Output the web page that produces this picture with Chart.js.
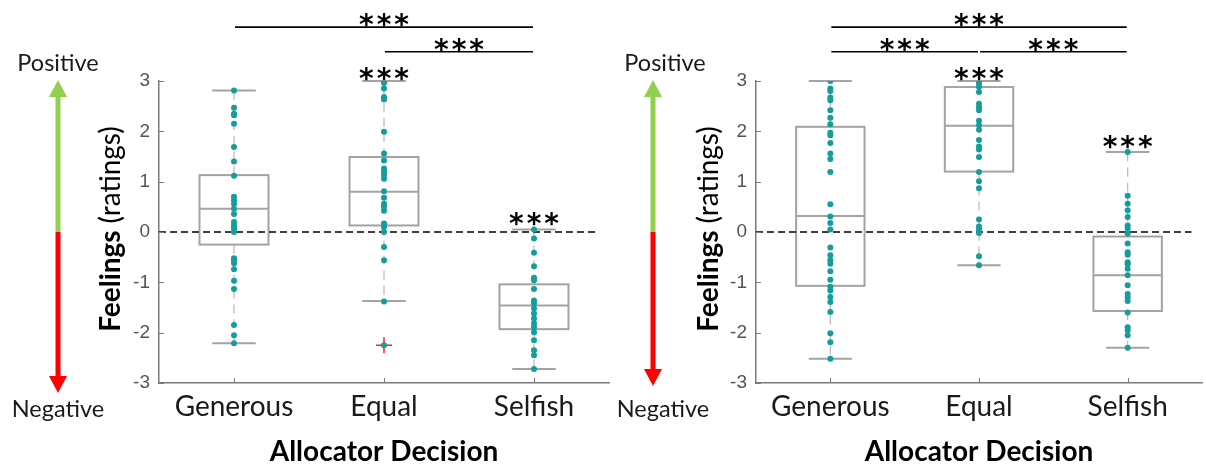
<!DOCTYPE html>
<html><head><meta charset="utf-8">
<script src="https://cdn.jsdelivr.net/npm/chart.js@4.4.1/dist/chart.umd.min.js"></script>
<style>
html,body{margin:0;padding:0;background:#fff;width:1206px;height:464px;overflow:hidden;}
.wrap{position:absolute;top:0;height:464px;}
#w1{left:0;width:620px;} #w2{left:590px;width:616px;}
</style></head><body>
<div class="wrap" id="w1"><canvas id="c1"></canvas></div>
<div class="wrap" id="w2"><canvas id="c2"></canvas></div>
<script>
// ---------- data ----------
const categories = ['Generous', 'Equal', 'Selfish'];
const yTicks = [-3, -2, -1, 0, 1, 2, 3];
const yLabel = ['Feelings', '(ratings)'];
const xLabel = 'Allocator Decision';
const posLabel = 'Positive';
const negLabel = 'Negative';
const starText = '***';

// Panel A (left)
const aGenerous = [2.81, 2.47, 2.35, 2.32, 2.15, 1.69, 1.40, 1.12, 0.70, 0.63, 0.56, 0.46, 0.36, 0.20, 0.13, 0.07, 0.0, -0.52, -0.56, -0.62, -0.74, -0.97, -1.13, -1.85, -2.05, -2.21];
const aEqual = [3.0, 2.96, 2.85, 2.68, 2.63, 1.99, 1.56, 1.42, 1.26, 1.19, 1.13, 1.06, 0.81, 0.68, 0.56, 0.50, 0.42, 0.17, 0.10, 0.0, -0.30, -0.56, -1.38, -2.25];
const aSelfish = [0.05, -0.13, -0.41, -0.68, -0.91, -0.96, -1.13, -1.36, -1.42, -1.52, -1.62, -1.72, -1.82, -1.89, -1.99, -2.15, -2.35, -2.45, -2.72];
const aOutlierX = [2];
const aOutlierY = [-2.25];
const aQ1 = [-0.25, 0.13, -1.93];
const aMedian = [0.46, 0.80, -1.46];
const aQ3 = [1.13, 1.49, -1.04];
const aLow = [-2.21, -1.37, -2.72];
const aHigh = [2.81, 3.0, 0.05];
const aBracketFrom = [1, 2];
const aBracketTo = [3, 3];
const aBracketLevel = [4.07, 3.58];
const aStarCat = [2, 3];
const aStarLevel = [3.18, 0.30];

// Panel B (right)
const bGenerous = [3.0, 2.85, 2.80, 2.67, 2.62, 2.42, 2.27, 2.14, 1.97, 1.92, 1.77, 1.56, 1.45, 1.19, 0.55, 0.31, 0.18, 0.05, -0.31, -0.46, -0.56, -0.63, -0.78, -0.95, -1.09, -1.16, -1.29, -1.39, -1.59, -2.01, -2.19, -2.52];
const bEqual = [3.0, 2.95, 2.88, 2.78, 2.55, 2.48, 2.42, 2.21, 2.12, 2.03, 1.83, 1.70, 1.64, 1.49, 1.19, 1.01, 0.87, 0.25, 0.11, 0.05, -0.02, -0.48, -0.66];
const bSelfish = [1.59, 0.72, 0.56, 0.43, 0.30, 0.13, 0.07, -0.03, -0.23, -0.40, -0.45, -0.60, -0.64, -0.73, -0.86, -1.06, -1.23, -1.30, -1.37, -1.60, -1.89, -1.95, -2.05, -2.30];
const bOutlierX = [];
const bOutlierY = [];
const bQ1 = [-1.07, 1.20, -1.57];
const bMedian = [0.32, 2.11, -0.86];
const bQ3 = [2.09, 2.88, -0.09];
const bLow = [-2.52, -0.66, -2.30];
const bHigh = [3.0, 3.0, 1.59];
const bBracketFrom = [1, 1, 2];
const bBracketTo = [3, 2, 3];
const bBracketLevel = [4.07, 3.58, 3.58];
const bStarCat = [2, 3];
const bStarLevel = [3.18, 1.83];

// ---------- styles ----------
const TEAL = '#159d9d';
const BOXC = '#a3a3a3';
const AXISC = '#7a7a7a';
const FONT = 'Lato, "Open Sans", sans-serif';

function boxPlugin(p) {
  return {
    id: 'box_' + p.id,
    beforeDatasetsDraw(chart) {
      const ctx = chart.ctx, xs = chart.scales.x, ys = chart.scales.y;
      ctx.save();
      for (let i = 0; i < categories.length; i++) {
        const xc = xs.getPixelForValue(i + 1);
        const half = xs.getPixelForValue(i + 1 + p.boxHalf) - xc;
        const cap = xs.getPixelForValue(i + 1 + p.capHalf) - xc;
        const yq1 = ys.getPixelForValue(p.q1[i]);
        const yq3 = ys.getPixelForValue(p.q3[i]);
        const ym = ys.getPixelForValue(p.med[i]);
        const yl = ys.getPixelForValue(p.low[i]);
        const yh = ys.getPixelForValue(p.high[i]);
        ctx.strokeStyle = '#b8b8b8'; ctx.lineWidth = 1.2; ctx.setLineDash([9, 6]);
        ctx.beginPath(); ctx.moveTo(xc, yq3); ctx.lineTo(xc, yh); ctx.stroke();
        ctx.beginPath(); ctx.moveTo(xc, yq1); ctx.lineTo(xc, yl); ctx.stroke();
        ctx.setLineDash([]);
        ctx.strokeStyle = BOXC; ctx.lineWidth = 2;
        ctx.beginPath(); ctx.moveTo(xc - cap, yh); ctx.lineTo(xc + cap, yh); ctx.stroke();
        ctx.beginPath(); ctx.moveTo(xc - cap, yl); ctx.lineTo(xc + cap, yl); ctx.stroke();
        ctx.strokeRect(xc - half, yq3, 2 * half, yq1 - yq3);
        ctx.beginPath(); ctx.moveTo(xc - half, ym); ctx.lineTo(xc + half, ym); ctx.stroke();
      }
      ctx.strokeStyle = '#000'; ctx.lineWidth = 1.5; ctx.setLineDash([7, 4]);
      const y0 = ys.getPixelForValue(0);
      ctx.beginPath(); ctx.moveTo(xs.getPixelForValue(0.5), y0); ctx.lineTo(xs.getPixelForValue(p.zeroEnd), y0); ctx.stroke();
      ctx.setLineDash([]);
      ctx.restore();
    },
    afterDraw(chart) {
      const ctx = chart.ctx, xs = chart.scales.x, ys = chart.scales.y, ca = chart.chartArea;
      ctx.save();
      ctx.strokeStyle = AXISC; ctx.lineWidth = 1;
      yTicks.forEach(v => { const y = Math.round(ys.getPixelForValue(v)) + 0.5; ctx.beginPath(); ctx.moveTo(ca.left, y); ctx.lineTo(ca.left + 5, y); ctx.stroke(); });
      categories.forEach((c, i) => { const x = Math.round(xs.getPixelForValue(i + 1)) + 0.5; ctx.beginPath(); ctx.moveTo(x, ca.bottom); ctx.lineTo(x, ca.bottom - 5); ctx.stroke(); });
      const stars = (xc, yc) => {
        ctx.save();
        ctx.fillStyle = '#000'; ctx.font = 'bold 28px "DejaVu Sans"'; ctx.textAlign = 'center'; ctx.textBaseline = 'alphabetic';
        ctx.letterSpacing = '3px';
        ctx.fillText(starText, xc + 1.5, yc + 16);
        ctx.restore();
      };
      ctx.strokeStyle = '#000'; ctx.lineWidth = 1.6;
      for (let i = 0; i < p.bFrom.length; i++) {
        const x1 = xs.getPixelForValue(p.bFrom[i]) + 1, x2 = xs.getPixelForValue(p.bTo[i]) - 1;
        const y = ys.getPixelForValue(p.bLevel[i]);
        ctx.beginPath(); ctx.moveTo(x1, y); ctx.lineTo(x2, y); ctx.stroke();
        stars((x1 + x2) / 2, y - 9);
      }
      for (let i = 0; i < p.sCat.length; i++) {
        stars(xs.getPixelForValue(p.sCat[i]), ys.getPixelForValue(p.sLevel[i]));
      }
      const ax = ca.left + p.arrowDX;
      const yTop = ys.getPixelForValue(3) - 1, yBot = ys.getPixelForValue(-3) + p.arrowBotExtra, yMid = ys.getPixelForValue(0);
      ctx.fillStyle = '#92d050';
      ctx.fillRect(ax - 2.5, yTop + 16, 5, yMid - yTop - 16);
      ctx.beginPath(); ctx.moveTo(ax, yTop); ctx.lineTo(ax - 9, yTop + 17); ctx.lineTo(ax + 9, yTop + 17); ctx.closePath(); ctx.fill();
      ctx.fillStyle = '#ff0000';
      ctx.fillRect(ax - 2.5, yMid, 5, yBot - yMid - 16);
      ctx.beginPath(); ctx.moveTo(ax, yBot); ctx.lineTo(ax - 9, yBot - 17); ctx.lineTo(ax + 9, yBot - 17); ctx.closePath(); ctx.fill();
      ctx.fillStyle = '#1a1a1a'; ctx.font = '23.5px ' + FONT; ctx.textAlign = 'center'; ctx.textBaseline = 'middle';
      ctx.fillText(posLabel, ca.left + p.posDX, 63);
      ctx.fillText(negLabel, ca.left + p.negDX, 409);
      ctx.save();
      ctx.translate(ca.left + p.ylabDX, (ca.top + ca.bottom) / 2 - 3);
      ctx.rotate(-Math.PI / 2);
      ctx.fillStyle = '#000'; ctx.textBaseline = 'middle'; ctx.textAlign = 'left';
      ctx.font = 'bold 28px ' + FONT; const w1 = ctx.measureText(yLabel[0] + ' ').width;
      ctx.font = '28px ' + FONT; const w2 = ctx.measureText(yLabel[1]).width;
      const start = -(w1 + w2) / 2;
      ctx.font = 'bold 28px ' + FONT; ctx.fillText(yLabel[0], start, 0);
      ctx.font = '28px ' + FONT; ctx.fillText(yLabel[1], start + w1, 0);
      ctx.restore();
      ctx.fillStyle = '#000'; ctx.font = 'bold 28px ' + FONT; ctx.textAlign = 'center'; ctx.textBaseline = 'middle';
      ctx.fillText(xLabel, xs.getPixelForValue(2), 452);
      ctx.restore();
    }
  };
}

function makePanel(canvasId, p) {
  const series = [p.gen, p.eq, p.sel];
  const pts = [];
  series.forEach((arr, i) => arr.forEach(v => pts.push({ x: i + 1, y: v })));
  const outl = p.ox.map((x, i) => ({ x: x, y: p.oy[i] }));
  new Chart(document.getElementById(canvasId), {
    type: 'scatter',
    data: {
      datasets: [
        { data: pts, backgroundColor: TEAL, borderColor: TEAL, pointRadius: 3, borderWidth: 0, order: 0 },
        { data: outl, pointStyle: 'cross', pointRadius: 8, borderColor: '#ff2020', borderWidth: 1.5, order: 1 }
      ]
    },
    options: {
      responsive: false, animation: false, devicePixelRatio: 1,
      layout: { padding: { left: p.padLeft, right: p.padRight, top: 81, bottom: 0 } },
      plugins: { legend: { display: false }, tooltip: { enabled: false } },
      scales: {
        x: {
          type: 'linear', min: 0.5, max: 3.5,
          afterBuildTicks: s => { s.ticks = categories.map((c, i) => ({ value: i + 1 })); },
          afterFit: s => { s.height = 81; },
          grid: { display: false, drawTicks: false },
          border: { display: true, color: AXISC, width: 1.5 },
          ticks: { callback: v => categories[v - 1], color: '#1a1a1a', font: { family: FONT, size: 28 }, padding: 7, maxRotation: 0, autoSkip: false }
        },
        y: {
          min: -3, max: 3,
          afterBuildTicks: s => { s.ticks = yTicks.map(v => ({ value: v })); },
          afterFit: s => { s.width = 59; },
          grid: { display: false, drawTicks: false },
          border: { display: true, color: AXISC, width: 1.5 },
          ticks: { color: '#555', font: { family: '"Liberation Sans", Arial', size: 19 }, padding: 9, autoSkip: false }
        }
      }
    },
    plugins: [boxPlugin(p)]
  });
}

function sizeCanvas(id, w) { const c = document.getElementById(id); c.width = w; c.height = 464; c.style.width = w + 'px'; c.style.height = '464px'; }
sizeCanvas('c1', 620); sizeCanvas('c2', 616);

makePanel('c1', {
  id: 'a', gen: aGenerous, eq: aEqual, sel: aSelfish, ox: aOutlierX, oy: aOutlierY,
  q1: aQ1, med: aMedian, q3: aQ3, low: aLow, high: aHigh,
  bFrom: aBracketFrom, bTo: aBracketTo, bLevel: aBracketLevel, sCat: aStarCat, sLevel: aStarLevel,
  padLeft: 100, padRight: 11, boxHalf: 0.23, capHalf: 0.145, zeroEnd: 3.43,
  arrowDX: -101, arrowBotExtra: 10, posDX: -101, negDX: -101, ylabDX: -48
});
makePanel('c2', {
  id: 'b', gen: bGenerous, eq: bEqual, sel: bSelfish, ox: bOutlierX, oy: bOutlierY,
  q1: bQ1, med: bMedian, q3: bQ3, low: bLow, high: bHigh,
  bFrom: bBracketFrom, bTo: bBracketTo, bLevel: bBracketLevel, sCat: bStarCat, sLevel: bStarLevel,
  padLeft: 107, padRight: 0, boxHalf: 0.23, capHalf: 0.145, zeroEnd: 3.43,
  arrowDX: -103, arrowBotExtra: 3, posDX: -91, negDX: -93, ylabDX: -47
});
</script>
</body></html>
